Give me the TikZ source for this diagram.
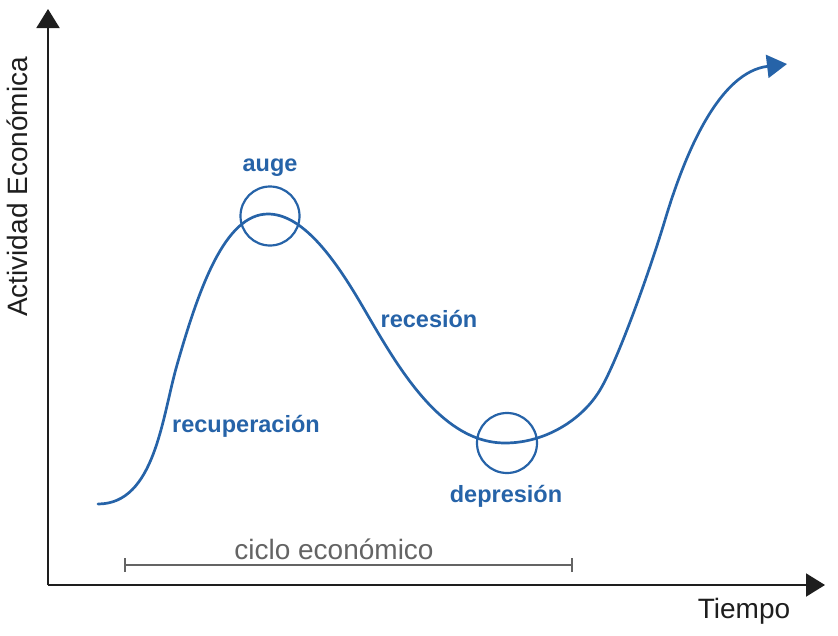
\documentclass[tikz,border=0pt]{standalone}
\usepackage{fontspec}
\setmainfont{Liberation Sans}
\usetikzlibrary{arrows.meta}
\definecolor{cblue}{RGB}{38,99,168}
\definecolor{cgray}{RGB}{100,100,100}
\definecolor{caxis}{RGB}{30,30,30}
\begin{document}
\begin{tikzpicture}[x=1pt,y=-1pt,
  axis/.style={draw=caxis,line width=2pt,-{Triangle[length=19pt,width=23pt]}},
  phase/.style={text=cblue,font=\fontsize{23.5}{26}\selectfont\bfseries},
  plain/.style={font=\fontsize{28}{30}\selectfont},
  ring/.style={draw=cblue,line width=2.2pt,circle,minimum size=59pt,inner sep=0pt}]
\useasboundingbox (0,0) rectangle (838,635);
\coordinate (o) at (48,585);
\coordinate (ytip) at (48,9);
\coordinate (xtip) at (825,585);
\draw[axis] (o) -- (ytip);
\draw[axis] (o) -- (xtip);
\node[plain,text=caxis] (tiempo) at (744,611) {Tiempo};
\node[plain,text=caxis,rotate=90] (actividad) at (17,187) {Actividad Económica};
% curve
\coordinate (c0) at (98,504);
\coordinate (c1) at (177,365);
\coordinate (c2) at (268,214);
\coordinate (c3) at (357,297);
\coordinate (c4) at (505,443);
\coordinate (c5) at (600,390);
\coordinate (c6) at (665,220);
\coordinate (c7) at (787,64);
\draw[cblue,line width=2.7pt,line cap=round,-{Triangle[length=20pt,width=23pt]}]
  (c0) .. controls (155,504) and (162,417) .. (c1)
       .. controls (199,288) and (225,214) .. (c2)
       .. controls (300,214) and (330,252) .. (c3)
       .. controls (390,352) and (435,443) .. (c4)
       .. controls (545,443) and (582,420) .. (c5)
       .. controls (618,360) and (650,270) .. (c6)
       .. controls (686,150) and (720,72) .. (c7);
\node[ring] (augec) at (270,216) {};
\node[ring,minimum size=60pt] (deprc) at (507,443) {};
\node[phase] (auge) at (270,168) {auge};
\node[phase] (recesion) at (429,319) {recesión};
\node[phase] (recup) at (246,426) {recuperación};
\node[phase] (depresion) at (506,496) {depresión};
% cycle bracket
\coordinate (cl) at (125,565);
\coordinate (cr) at (572,565);
\draw[cgray,line width=2pt] (cl) -- (cr);
\draw[cgray,line width=2pt] ([yshift=-7pt]cl) -- ([yshift=7pt]cl);
\draw[cgray,line width=2pt] ([yshift=-7pt]cr) -- ([yshift=7pt]cr);
\node[plain,text=cgray] (ciclo) at (334,549) {ciclo económico};
\end{tikzpicture}
\end{document}
